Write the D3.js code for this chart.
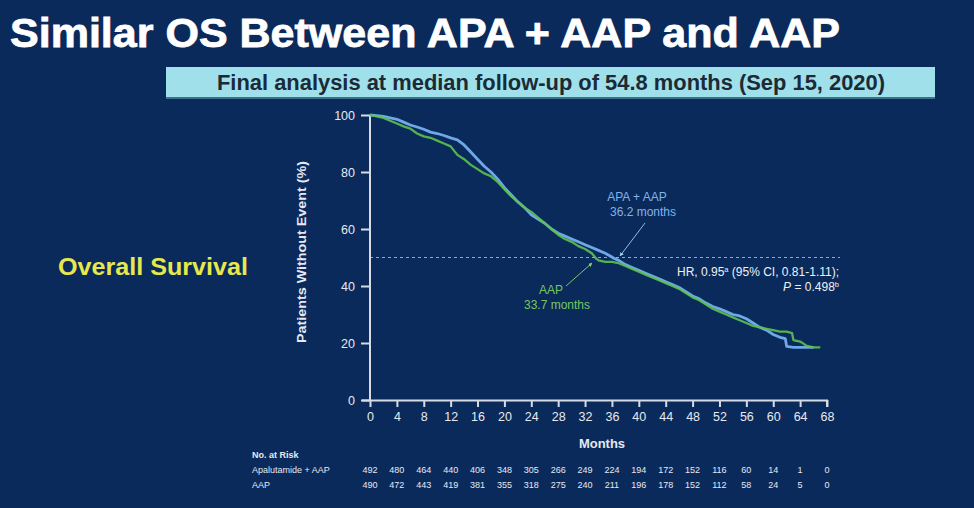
<!DOCTYPE html>
<html><head><meta charset="utf-8">
<script src="https://cdn.jsdelivr.net/npm/d3@7"></script>
<style>
html,body{margin:0;padding:0;background:#0b2a5c;}
svg{display:block;}
</style></head>
<body>
<svg id="chart" width="974" height="508"></svg>
<script>
const title = "Similar OS Between APA + AAP and AAP";
const subtitle = "Final analysis at median follow-up of 54.8 months (Sep 15, 2020)";
const xTicks = [0,4,8,12,16,20,24,28,32,36,40,44,48,52,56,60,64,68];
const yTicks = [0,20,40,60,80,100];
const riskGroups = ["Apalutamide + AAP","AAP"];
const riskApa = [492,480,464,440,406,348,305,266,249,224,194,172,152,116,60,14,1,0];
const riskAap = [490,472,443,419,381,355,318,275,240,211,196,178,152,112,58,24,5,0];
const apaMonths = [0,1,2,3,4,5,6,7,8,9,10,11,12,13,14,15,16,17,18,19,20,21,22,23,24,25,26,27,28,29,30,31,32,33,34,35,36,36.2,37,38,39,40,41,42,43,44,45,46,47,48,49,50,51,52,53,54,55,56,57,58,59,60,61,61.8,62,63,64,65,66];
const apaSurv = [100,99.8,99.5,99,98.5,97.5,96.5,95.8,95,94,93.5,92.8,92,91.3,89.5,87,84.5,82,80,77.5,74.5,72,69.5,67.5,65,63.5,62,60,58.5,57.5,56.5,55.5,54.5,53.5,52.5,51.5,50.2,49.8,49,47.5,46.5,45.5,44.5,43.5,42.5,41.5,40.5,39.5,38,36.5,35.5,34,32.8,32,31,30,29.5,28.5,27,25.5,24.5,23,22,21.5,18.8,18.5,18.5,18.5,18.5];
const aapMonths = [0,1,2,3,4,5,6,7,8,9,10,11,12,13,14,15,16,17,18,19,20,21,22,23,24,25,26,27,28,29,30,31,32,33,33.7,34,35,36,37,38,39,40,41,42,43,44,45,46,47,48,49,50,51,52,53,54,55,56,57,58,59,60,61,62,62.8,63,64,65,66,67];
const aapSurv = [100,99.5,99,98,97,96,95.2,93.5,92.5,92,91,90,89,86,84.5,82.5,81,79.5,78.5,76.5,74,71.5,69.5,67.5,66,64,62,60,58,56.5,55.5,54,53,51.5,49.5,49,48.5,48.5,48,47,46,45,44,43,42,41,40,39,37.5,36,35,33.5,32,31,30,29,28,27,26,25.5,25,24.5,24,24,23.5,21,20.5,19,18.5,18.5];
const medianLine = 50;

const svg = d3.select("#chart");
const W = 974, H = 508;
svg.append("rect").attr("width",W).attr("height",H).attr("fill","#0b2a5c");

// Title
svg.append("text").attr("x",10).attr("y",47)
  .attr("font-family","Liberation Sans, Arial, sans-serif").attr("font-weight","bold")
  .attr("font-size",40).attr("fill","#ffffff")
  .attr("textLength",830).attr("lengthAdjust","spacingAndGlyphs")
  .attr("stroke","#ffffff").attr("stroke-width",0.8).text(title);

// Banner
svg.append("rect").attr("x",166).attr("y",67).attr("width",769).attr("height",31).attr("fill","#9fe0ea");
svg.append("rect").attr("x",166).attr("y",97).attr("width",769).attr("height",2).attr("fill","#3d6f8a");
svg.append("text").attr("x",551).attr("y",90).attr("text-anchor","middle")
  .attr("font-family","Liberation Sans, Arial, sans-serif")
  .attr("font-size",22).attr("font-weight","bold").attr("fill","#1b2a36")
  .attr("textLength",668).attr("lengthAdjust","spacingAndGlyphs").text(subtitle);

// Overall Survival
svg.append("text").attr("x",58).attr("y",275)
  .attr("font-family","Liberation Sans, Arial, sans-serif").attr("font-weight","bold")
  .attr("font-size",23).attr("fill","#e6e84c")
  .attr("textLength",190).attr("lengthAdjust","spacingAndGlyphs").text("Overall Survival");

const x = d3.scaleLinear().domain([0,68]).range([370,827]);
const y = d3.scaleLinear().domain([0,100]).range([400,115]);
const axisCol = "#d6dbe6";
const fontF = "Liberation Sans, Arial, sans-serif";

// dashed median
svg.append("line").attr("x1",x(0)).attr("x2",840).attr("y1",y(medianLine)).attr("y2",y(medianLine))
  .attr("stroke","#8fa9cf").attr("stroke-width",1).attr("stroke-dasharray","3,3");

// Axes
const yAxis = svg.append("g").attr("transform",`translate(${x(0)},0)`)
  .call(d3.axisLeft(y).tickValues(yTicks).tickSize(9).tickPadding(6));
const xAxis = svg.append("g").attr("transform",`translate(0,${y(0)})`)
  .call(d3.axisBottom(x).tickValues(xTicks).tickSize(7).tickPadding(5));
[yAxis,xAxis].forEach(g=>{
  g.select(".domain").attr("stroke",axisCol).attr("stroke-width",2);
  g.selectAll(".tick line").attr("stroke",axisCol).attr("stroke-width",2);
  g.selectAll(".tick text").attr("fill","#e6e9f0").attr("font-family",fontF).attr("font-size",12.5);
});
xAxis.select(".domain").attr("d",`M362,0.5H${x(68)}V7`);
yAxis.select(".domain").attr("d",`M0,${y(100)}V${y(0)}`);

svg.append("text").attr("transform",`translate(306,252) rotate(-90)`).attr("text-anchor","middle")
  .attr("font-family",fontF).attr("font-weight","bold").attr("font-size",13).attr("fill","#e6e9f0")
  .attr("textLength",182).attr("lengthAdjust","spacingAndGlyphs")
  .text("Patients Without Event (%)");
svg.append("text").attr("x",602).attr("y",448).attr("text-anchor","middle")
  .attr("font-family",fontF).attr("font-weight","bold").attr("font-size",13).attr("fill","#e6e9f0")
  .text("Months");

// Curves
const line = d3.line().x(d=>x(d[0])).y(d=>y(d[1])).curve(d3.curveLinear);
const apa = apaMonths.map((m,i)=>[m,apaSurv[i]]);
const aap = aapMonths.map((m,i)=>[m,aapSurv[i]]);
svg.append("path").datum(apa).attr("d",line).attr("fill","none").attr("stroke","#6fa8e6").attr("stroke-width",2.8).attr("stroke-linejoin","round");
svg.append("path").datum(aap).attr("d",line).attr("fill","none").attr("stroke","#5cc24e").attr("stroke-width",2.3).attr("stroke-linejoin","round").attr("opacity",0.9);

// Annotations
const blueTxt = "#80b3ea", greenTxt = "#74c85c";
svg.append("text").attr("x",637).attr("y",201).attr("text-anchor","middle").attr("font-family",fontF).attr("font-size",12).attr("fill",blueTxt).text("APA + AAP");
svg.append("text").attr("x",643).attr("y",216).attr("text-anchor","middle").attr("font-family",fontF).attr("font-size",12).attr("fill",blueTxt).text("36.2 months");
svg.append("text").attr("x",551).attr("y",294).attr("text-anchor","middle").attr("font-family",fontF).attr("font-size",12).attr("fill",greenTxt).text("AAP");
svg.append("text").attr("x",557).attr("y",309).attr("text-anchor","middle").attr("font-family",fontF).attr("font-size",12).attr("fill",greenTxt).text("33.7 months");

const defs = svg.append("defs");
[["ab","#a9d3f5"],["ag","#7fdc6a"]].forEach(([id,c])=>{
  defs.append("marker").attr("id",id).attr("viewBox","0 0 10 10").attr("refX",9).attr("refY",5)
    .attr("markerWidth",4).attr("markerHeight",4).attr("orient","auto")
    .append("path").attr("d","M0,0L10,5L0,10z").attr("fill",c);
});
svg.append("line").attr("x1",645).attr("y1",223).attr("x2",620).attr("y2",256).attr("stroke","#8fbbe8").attr("stroke-width",1).attr("marker-end","url(#ab)");
svg.append("line").attr("x1",566).attr("y1",286).attr("x2",592).attr("y2",263).attr("stroke","#7cc868").attr("stroke-width",1).attr("marker-end","url(#ag)");

const hr = svg.append("text").attr("x",839).attr("y",276).attr("text-anchor","end").attr("font-family",fontF).attr("font-size",12).attr("fill","#eef0f5");
hr.append("tspan").text("HR, 0.95");
hr.append("tspan").attr("font-size",7.5).attr("dy",-4).text("a");
hr.append("tspan").attr("dy",4).text(" (95% CI, 0.81-1.11);");
const pv = svg.append("text").attr("x",839).attr("y",291).attr("text-anchor","end").attr("font-family",fontF).attr("font-size",12).attr("fill","#eef0f5");
pv.append("tspan").attr("font-style","italic").text("P");
pv.append("tspan").text(" = 0.498");
pv.append("tspan").attr("font-size",7.5).attr("dy",-4).text("b");

// Number at risk
svg.append("text").attr("x",252).attr("y",458).attr("font-family",fontF).attr("font-weight","bold").attr("font-size",9).attr("fill","#e6e9f0").text("No. at Risk");
[riskApa,riskAap].forEach((arr,gi)=>{
  const yy = 473 + gi*14.5;
  svg.append("text").attr("x",252).attr("y",yy).attr("font-family",fontF).attr("font-size",9).attr("fill","#e6e9f0").text(riskGroups[gi]);
  svg.selectAll(null).data(arr).enter().append("text")
    .attr("x",(d,i)=>x(xTicks[i])).attr("y",yy).attr("text-anchor","middle")
    .attr("font-family",fontF).attr("font-size",9).attr("fill","#e6e9f0").text(d=>d);
});
</script>
</body></html>
